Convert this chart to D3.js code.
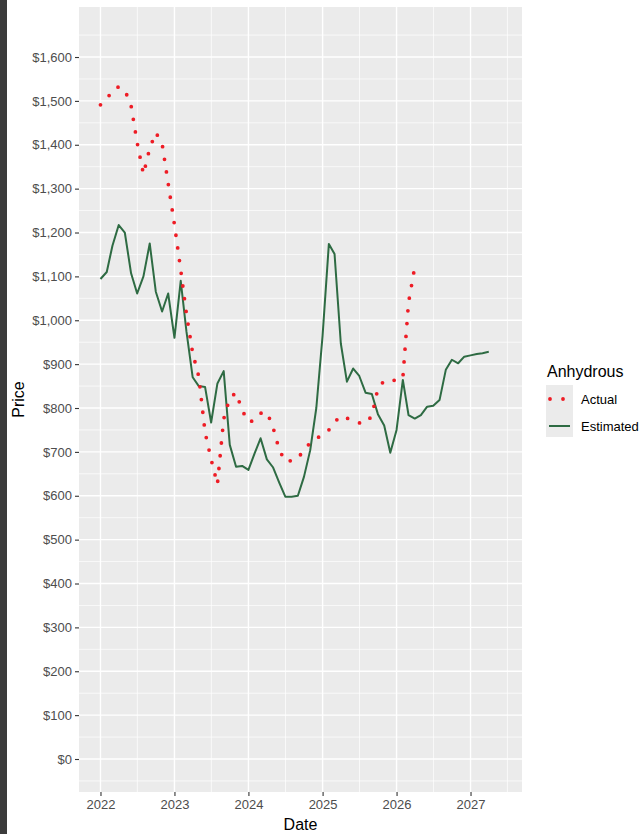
<!DOCTYPE html>
<html>
<head>
<meta charset="utf-8">
<script src="https://cdn.jsdelivr.net/npm/d3@7"></script>
<style>
  html, body { margin: 0; padding: 0; background: #fff; }
  svg { display: block; font-family: "Liberation Sans", Arial, Helvetica, sans-serif; }
</style>
</head>
<body>
<script>
// ---------- data ----------
const actualStart = [2022, 0];      // Jan 2022
const actualValues = [
  1491, 1503, 1525, 1532, 1525, 1489, 1405, 1333, 1392, 1428, 1403, 1312,   // 2022
  1218, 1115, 1015,  925,  872,  745,  683,  626,  775,  823,  835,  795,   // 2023
   768,  772,  788,  791,  757,  705,  678,  680,  684,  706,  720,  731,   // 2024
   738,  750,  768,  782,  777,  770,  766,  765,  782,  845,  862,  865,   // 2025
   862,  868, 1040, 1122                                                    // 2026
];
const estimatedStart = [2022, 0];   // Jan 2022
const estimatedValues = [
  1094, 1110, 1170, 1217, 1200, 1107, 1061, 1100, 1175, 1065, 1020, 1061,   // 2022
   960, 1090,  975,  870,  850,  848,  767,  856,  884,  716,  666,  668,   // 2023
   659,  697,  731,  683,  665,  630,  598,  598,  600,  643,  704,  800,   // 2024
   965, 1174, 1151,  947,  860,  890,  873,  835,  832,  786,  760,  698,   // 2025
   750,  864,  784,  776,  784,  803,  805,  818,  887,  910,  902,  917,   // 2026
   920,  923,  925,  928                                                    // 2027
];
const yTickValues = [0, 100, 200, 300, 400, 500, 600, 700, 800, 900, 1000, 1100, 1200, 1300, 1400, 1500, 1600];
const xTickYears = [2022, 2023, 2024, 2025, 2026, 2027];
const seriesNames = ["Actual", "Estimated"];
const legendTitle = "Anhydrous";

function monthly(start, values) {
  return values.map((v, i) => ({ date: new Date(start[0], start[1] + i, 1), value: v }));
}
const actual = monthly(actualStart, actualValues);
const estimated = monthly(estimatedStart, estimatedValues);

// ---------- layout ----------
const W = 641, H = 834;
const panel = { left: 79, right: 522, top: 7, bottom: 792 };

const svg = d3.select("body").append("svg").attr("width", W).attr("height", H);
svg.append("rect").attr("width", W).attr("height", H).attr("fill", "#fff");
svg.append("rect").attr("x", 0).attr("y", 0).attr("width", 7).attr("height", H).attr("fill", "#3b3b3b");

const x = d3.scaleTime()
  .domain([new Date(2021, 8, 17), new Date(2027, 8, 12)])
  .range([panel.left, panel.right]);
const y = d3.scaleLinear()
  .domain([-75.2, 1714])
  .range([panel.bottom, panel.top]);

// panel background
svg.append("rect")
  .attr("x", panel.left).attr("y", panel.top)
  .attr("width", panel.right - panel.left).attr("height", panel.bottom - panel.top)
  .attr("fill", "#ebebeb");

const grid = svg.append("g");
const yMinor = d3.range(-50, 1700, 100).filter(v => y(v) > panel.top && y(v) < panel.bottom);
grid.selectAll(".ymin").data(yMinor).join("line")
  .attr("x1", panel.left).attr("x2", panel.right)
  .attr("y1", d => y(d)).attr("y2", d => y(d))
  .attr("stroke", "#fff").attr("stroke-width", 0.7);
const xMinor = d3.range(2021, 2028).map(yr => new Date(yr, 6, 2))
  .filter(d => x(d) > panel.left && x(d) < panel.right);
grid.selectAll(".xmin").data(xMinor).join("line")
  .attr("x1", d => x(d)).attr("x2", d => x(d))
  .attr("y1", panel.top).attr("y2", panel.bottom)
  .attr("stroke", "#fff").attr("stroke-width", 0.7);
grid.selectAll(".ymaj").data(yTickValues).join("line")
  .attr("x1", panel.left).attr("x2", panel.right)
  .attr("y1", d => y(d)).attr("y2", d => y(d))
  .attr("stroke", "#fff").attr("stroke-width", 1.4);
const xMajor = xTickYears.map(yr => new Date(yr, 0, 1));
grid.selectAll(".xmaj").data(xMajor).join("line")
  .attr("x1", d => x(d)).attr("x2", d => x(d))
  .attr("y1", panel.top).attr("y2", panel.bottom)
  .attr("stroke", "#fff").attr("stroke-width", 1.4);

// axes
const fmt = d3.format("$,.0f");
const yAxis = d3.axisLeft(y).tickValues(yTickValues).tickFormat(fmt).tickSize(4).tickPadding(3);
const gy = svg.append("g").attr("transform", `translate(${panel.left},0)`).call(yAxis);
gy.select(".domain").remove();
gy.selectAll(".tick line").attr("stroke", "#333").attr("stroke-width", 1.1);
gy.selectAll(".tick text").attr("fill", "#4d4d4d").attr("font-size", 13)
  .attr("font-family", "Liberation Sans, Arial, sans-serif");

const xAxis = d3.axisBottom(x).tickValues(xMajor).tickFormat(d3.timeFormat("%Y")).tickSize(4).tickPadding(4);
const gx = svg.append("g").attr("transform", `translate(0,${panel.bottom})`).call(xAxis);
gx.select(".domain").remove();
gx.selectAll(".tick line").attr("stroke", "#333").attr("stroke-width", 1.1);
gx.selectAll(".tick text").attr("fill", "#4d4d4d").attr("font-size", 13)
  .attr("font-family", "Liberation Sans, Arial, sans-serif");

// axis titles
svg.append("text").attr("x", (panel.left + panel.right) / 2).attr("y", 830)
  .attr("text-anchor", "middle").attr("font-size", 16).attr("fill", "#000").text("Date");
svg.append("text")
  .attr("transform", `translate(24,${(panel.top + panel.bottom) / 2}) rotate(-90)`)
  .attr("text-anchor", "middle").attr("font-size", 16).attr("fill", "#000").text("Price");

// lines
const line = d3.line().x(d => x(d.date)).y(d => y(d.value));

const estColor = "#2e6b43";
const actColor = "#ee1c25";
svg.append("path").datum(estimated)
  .attr("d", line).attr("fill", "none")
  .attr("stroke", estColor).attr("stroke-width", 2)
  .attr("stroke-linejoin", "round");
svg.append("path").datum(actual)
  .attr("d", line).attr("fill", "none")
  .attr("stroke", actColor).attr("stroke-width", 3.8)
  .attr("stroke-linecap", "round")
  .attr("stroke-dasharray", "0 12.8");

// legend
const lg = svg.append("g");
lg.append("text").attr("x", 547).attr("y", 377).attr("font-size", 16).attr("fill", "#000").text(legendTitle);
lg.append("rect").attr("x", 546).attr("y", 385).attr("width", 27).attr("height", 52).attr("fill", "#ebebeb");
lg.append("line").attr("x1", 550).attr("x2", 570).attr("y1", 399).attr("y2", 399)
  .attr("stroke", actColor).attr("stroke-width", 3.8).attr("stroke-linecap", "round")
  .attr("stroke-dasharray", "0 13");
lg.append("line").attr("x1", 549).attr("x2", 570).attr("y1", 426).attr("y2", 426)
  .attr("stroke", estColor).attr("stroke-width", 2);
lg.selectAll(".lt").data(seriesNames).join("text")
  .attr("x", 581).attr("y", (d, i) => 399 + i * 27).attr("dy", "0.35em")
  .attr("font-size", 13).attr("fill", "#000").text(d => d);
</script>
</body>
</html>
